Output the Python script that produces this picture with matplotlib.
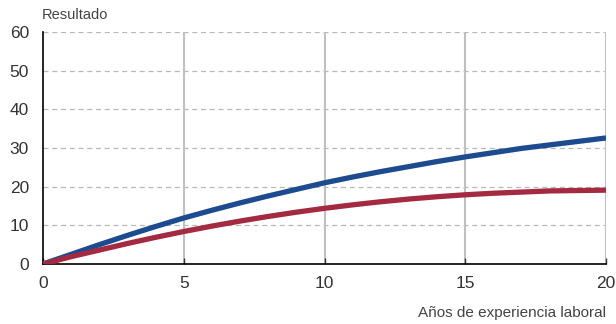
import matplotlib.pyplot as plt

# Years of experience and estimated outcome curves
years = list(range(0, 21))
blue_vals = [0.0, 2.5, 5.0, 7.4, 9.7, 11.9, 13.9, 15.8, 17.6, 19.3, 21.0,
             22.5, 23.9, 25.2, 26.5, 27.7, 28.8, 29.9, 30.8, 31.7, 32.6]
red_vals = [0.0, 1.9, 3.6, 5.3, 6.9, 8.4, 9.8, 11.1, 12.3, 13.4, 14.4,
            15.3, 16.1, 16.8, 17.4, 17.9, 18.3, 18.6, 18.9, 19.0, 19.1]
x_ticks = [0, 5, 10, 15, 20]
y_ticks = [0, 10, 20, 30, 40, 50, 60]

plt.rcParams['font.family'] = ['Liberation Sans', 'DejaVu Sans']

fig = plt.figure(figsize=(6.16, 3.24), dpi=100)
ax = fig.add_axes([0.0698, 0.1852, 0.914, 0.716])

# Grid: dashed horizontal, solid vertical
for y in y_ticks[1:]:
    ax.axhline(y, color='#b8b8b8', lw=0.9, ls=(0, (4, 3)), zorder=1)
for x in x_ticks[1:]:
    ax.axvline(x, color='#c0c0c0', lw=1.5, zorder=1)

ax.plot(years, blue_vals, color='#1c4b8f', lw=3.8, solid_capstyle='butt', zorder=3)
ax.plot(years, red_vals, color='#a32a40', lw=3.8, solid_capstyle='butt', zorder=3)

ax.set_xlim(0, 20)
ax.set_ylim(0, 60)
ax.set_xticks(x_ticks)
ax.set_yticks(y_ticks)
ax.tick_params(axis='both', direction='in', length=4, width=1, color='#333333',
               labelcolor='#333333', labelsize=12.5)
ax.tick_params(axis='x', pad=9)
ax.tick_params(axis='y', pad=10, length=0)

for side in ['top', 'right']:
    ax.spines[side].set_visible(False)
ax.spines['left'].set_color('black')
ax.spines['bottom'].set_color('black')
ax.spines['left'].set_linewidth(1.2)
ax.spines['bottom'].set_linewidth(1.2)

fig.text(0.068, 0.955, 'Resultado', ha='left', va='center', fontsize=10.5, color='#444444')
fig.text(0.984, 0.035, 'Años de experiencia laboral', ha='right', va='center',
         fontsize=11, color='#444444')

fig.savefig('out.png', dpi=100)
